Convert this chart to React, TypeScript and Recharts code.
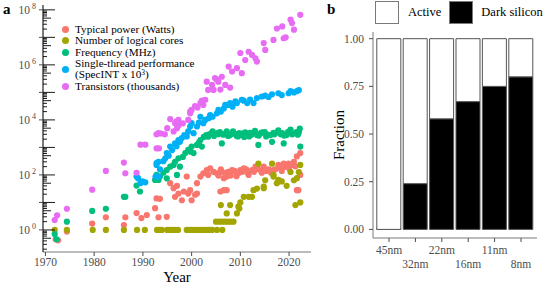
import React from "react";
import {
  ScatterChart,
  Scatter,
  XAxis,
  YAxis,
  Legend,
  BarChart,
  Bar,
} from "recharts";

// panel a: [year, value]
const power: [number, number][] = [
  [1972.1, 0.46], [1972.6, 0.42], [1974.4, 0.87], [1979.6, 1.7], [1982.4, 2.9], [1986.1, 1.5],
  [1986.4, 2.9], [1988.7, 4.1], [1989.7, 2.7], [1990.8, 3.5], [1992.5, 6.2], [1992.8, 14],
  [1993.2, 2.9], [1993.5, 13.5], [1994.9, 3], [1995.6, 50], [1996.3, 33], [1996.6, 16],
  [1997.3, 21], [1997.0, 40], [1998.0, 12], [1998.4, 25], [1999.0, 87], [1999.3, 21],
  [1999.7, 28], [2000.0, 12], [2000.7, 19], [2001.1, 50], [2001.1, 21], [2001.8, 87],
  [2002.4, 115], [2003.1, 150], [2003.4, 100], [2003.8, 174], [2004.5, 130], [2005.2, 115],
  [2005.5, 95], [2005.9, 130], [2005.9, 25], [2006.0, 160], [2006.6, 76], [2006.6, 28],
  [2006.8, 120], [2007.2, 87], [2007.2, 28], [2007.5, 130], [2008.0, 95], [2008.3, 150],
  [2008.8, 140], [2009.2, 90], [2009.6, 115], [2010.0, 150], [2010.4, 130], [2010.7, 174],
  [2011.2, 160], [2011.5, 120], [2011.7, 100], [2012.4, 150], [2012.8, 130], [2013.1, 200],
  [2013.6, 165], [2014.1, 150], [2014.4, 120], [2014.8, 200], [2015.3, 140], [2015.8, 160],
  [2016.3, 120], [2016.8, 150], [2017.2, 160], [2017.8, 230], [2018.2, 180], [2018.5, 140],
  [2018.9, 260], [2019.3, 200], [2019.9, 260], [2020.0, 170], [2020.6, 230], [2021.0, 300],
  [2021.3, 205], [2021.6, 470], [2021.6, 28], [2021.9, 28], [2022.3, 620], [2022.3, 100],
];

const cores: [number, number][] = [
  [1971.9, 1], [1974.4, 1], [1979.7, 1], [1982.4, 1], [1986.1, 1], [1988.8, 1], [1990.4, 1],
  [1992.9, 1], [1993.4, 1], [1993.9, 1], [1995.0, 1], [1995.5, 1], [1996.0, 1], [1996.6, 1],
  [1997.2, 1], [1999.0, 1], [1999.5, 1], [2000.0, 1], [2000.6, 1], [2001.2, 1], [2001.8, 1],
  [2002.4, 1], [2003.0, 1], [2003.6, 1], [2004.2, 1], [2005.2, 1], [2006.3, 1],
  [2005.0, 2], [2005.6, 2], [2006.2, 2], [2006.8, 2], [2007.4, 2], [2008.0, 2], [2008.6, 2],
  [2006.0, 8], [2007.2, 4], [2007.9, 8], [2009.3, 4], [2009.6, 7], [2009.8, 6], [2010.0, 10],
  [2010.7, 16], [2011.7, 16], [2012.4, 16], [2012.7, 28], [2013.4, 32], [2013.7, 256],
  [2014.8, 33], [2014.8, 38], [2015.1, 64], [2016.5, 256], [2016.8, 100], [2016.8, 87],
  [2017.5, 50], [2017.8, 66], [2018.5, 58], [2019.5, 40], [2020.3, 128], [2021.0, 64],
  [2021.3, 8], [2021.6, 76], [2022.3, 10], [2022.3, 230], [2022.0, 128],
];

const frequency: [number, number][] = [
  [1971.9, 0.71], [1972.3, 0.46], [1974.4, 2], [1979.6, 4.9], [1982.4, 5.9], [1986.1, 16],
  [1986.4, 16], [1988.7, 41], [1989.4, 25], [1992.5, 66], [1992.8, 100], [1993.2, 66],
  [1993.5, 87], [1994.2, 120], [1994.9, 150], [1994.9, 75], [1995.6, 200], [1996.3, 230],
  [1996.6, 300], [1997.0, 100], [1997.3, 400], [1997.6, 200], [1998.2, 450], [1998.7, 620],
  [1999.3, 810], [1999.8, 700], [2000.0, 1070], [2000.4, 620], [2001.1, 1230], [2001.5, 1500],
  [2001.8, 1860], [2002.1, 1070], [2002.5, 2400], [2003.0, 2800], [2003.4, 2450], [2003.6, 3000],
  [2004.0, 3200], [2004.3, 3800], [2004.6, 2600], [2005.2, 3300], [2005.5, 3000], [2005.8, 3600],
  [2006.2, 1400], [2006.5, 2900], [2007.0, 3200], [2007.2, 3800], [2007.5, 2600], [2007.9, 2800],
  [2008.0, 3000], [2008.5, 3800], [2008.8, 3200], [2009.2, 2660], [2009.5, 2500], [2009.8, 3300],
  [2010.3, 2800], [2010.5, 3200], [2010.8, 2400], [2011.0, 3500], [2011.3, 3100], [2011.8, 2500],
  [2012.0, 3400], [2012.3, 2900], [2012.6, 3200], [2013.0, 4000], [2013.4, 2800], [2013.7, 1230],
  [2013.8, 2700], [2014.2, 3300], [2014.5, 3500], [2015.0, 3600], [2015.3, 2500], [2015.6, 2900],
  [2016.2, 2800], [2016.5, 1600], [2016.8, 3400], [2017.0, 3000], [2017.5, 3500], [2017.8, 4200],
  [2018.3, 3000], [2018.6, 3300], [2018.9, 1400], [2019.0, 2700], [2019.5, 2800], [2019.8, 3700],
  [2020.3, 4400], [2020.6, 3000], [2021.2, 3200], [2021.5, 3600], [2021.8, 2900], [2022.0, 3500],
  [2022.2, 4800], [2022.3, 1070],
];

const singleThread: [number, number][] = [
  [1988.7, 87], [1989.0, 76], [1989.5, 50], [1989.9, 58], [1990.5, 54], [1992.6, 87],
  [1992.8, 230], [1992.8, 270], [1993.2, 300], [1993.2, 87], [1993.5, 160], [1994.2, 316],
  [1994.6, 400], [1994.9, 620], [1995.3, 500], [1995.6, 1070], [1996.0, 800], [1996.6, 1400],
  [1996.9, 1100], [1997.3, 1860], [1997.6, 1600], [1998.0, 2200], [1998.5, 2800], [1999.0, 2500],
  [1999.3, 3800], [1999.7, 5750], [2000.0, 7600], [2000.4, 3300], [2001.1, 5750], [2001.5, 8000],
  [2001.8, 13000], [2002.4, 7600], [2002.8, 10000], [2003.5, 11500], [2003.8, 15000], [2004.3, 13000],
  [2005.2, 17400], [2005.5, 23000], [2006.0, 20000], [2006.6, 26000], [2006.9, 35000], [2007.6, 35000],
  [2007.9, 41000], [2008.4, 30000], [2009.0, 47000], [2009.3, 41000], [2010.3, 54000], [2010.7, 50000],
  [2011.4, 41000], [2012.0, 55000], [2012.7, 41000], [2013.4, 62000], [2014.4, 71000], [2015.1, 76000],
  [2015.8, 68000], [2016.5, 85000], [2017.8, 93000], [2018.5, 80000], [2019.9, 93000], [2020.3, 112000],
  [2021.0, 100000], [2021.6, 112000], [2022.0, 120000],
];

const transistors: [number, number][] = [
  [1971.9, 2.3], [1972.4, 3.4], [1974.4, 5.9], [1979.6, 29], [1982.4, 140], [1986.1, 280],
  [1986.4, 115], [1988.7, 120], [1989.5, 1260], [1990.5, 1260], [1992.8, 930], [1993.3, 930],
  [1992.8, 3000], [1993.2, 3300], [1993.7, 3200], [1994.5, 3000], [1995.0, 5000], [1995.6, 10700],
  [1996.3, 3800], [1996.6, 7600], [1996.9, 8900], [1997.0, 5000], [1997.3, 6300], [1997.3, 10000],
  [1998.2, 7500], [1999.3, 10000], [1999.7, 17400], [1999.7, 20000], [2000.0, 23000], [2000.7, 32000],
  [2001.2, 28000], [2001.8, 41000], [2002.1, 50000], [2002.4, 35000], [2002.8, 54000], [2003.1, 245000],
  [2003.4, 123000], [2004.2, 186000], [2004.5, 123000], [2004.8, 330000], [2005.2, 290000],
  [2005.5, 245000], [2005.9, 126000], [2006.2, 370000], [2006.9, 186000], [2007.6, 870000],
  [2007.9, 150000], [2008.3, 575000], [2009.3, 760000], [2010.0, 2700000], [2010.3, 500000],
  [2011.0, 1500000], [2011.7, 3000000], [2012.4, 2300000], [2013.1, 1740000], [2013.4, 1320000],
  [2014.8, 6200000], [2015.1, 3500000], [2016.8, 8100000], [2017.5, 21000000], [2018.6, 25000000],
  [2018.9, 9300000], [2019.3, 10000000], [2020.3, 44000000], [2020.6, 33000000], [2021.0, 19000000],
  [2022.3, 66000000],
];

const yearTicks = [1970, 1980, 1990, 2000, 2010, 2020];
const labelledExponents = [0, 2, 4, 6, 8];
const minorSteps = [2, 3, 4, 5, 6, 7, 8, 9];
const decadeExponents = [-1, 0, 1, 2, 3, 4, 5, 6, 7];

// panel b
const nodes = ["45nm", "32nm", "22nm", "16nm", "11nm", "8nm"];
const darkSilicon = [0, 0.24, 0.58, 0.67, 0.75, 0.8];
const active = [1, 0.76, 0.42, 0.33, 0.25, 0.2];
const fractionTicks = [0, 0.25, 0.5, 0.75, 1];

const FONT = "'Liberation Serif', 'Times New Roman', serif";
const GREY = "#4d4d4d";
const BORDER = "#7a7a7a";

const seriesA = [
  { key: "power", name: "Typical power (Watts)", color: "#F8766D", points: power },
  { key: "cores", name: "Number of logical cores", color: "#A3A500", points: cores },
  { key: "freq", name: "Frequency (MHz)", color: "#00BF7D", points: frequency },
  { key: "single", name: "Single-thread performance", color: "#00B0F6", points: singleThread },
  { key: "trans", name: "Transistors (thousands)", color: "#E76BF3", points: transistors },
];

const logTicks: number[] = [];
decadeExponents.forEach((e) => {
  if (e >= 0) logTicks.push(Math.pow(10, e));
  minorSteps.forEach((m) => logTicks.push(m * Math.pow(10, e)));
});
logTicks.push(1e8);

function LogTick({ x, y, payload }: any) {
  const v = payload.value;
  const exp = Math.floor(Math.log10(v) + 1e-9);
  const mult = Math.round(v / Math.pow(10, exp));
  const len = mult === 1 ? 12 : mult === 5 ? 8 : 4;
  return (
    <g>
      {mult === 1 && <line x1={x - 4} x2={x} y1={y} y2={y} stroke={GREY} strokeWidth={1} />}
      <line x1={x} x2={x + len} y1={y} y2={y} stroke="#000" strokeWidth={0.9} />
      {mult === 1 && labelledExponents.includes(exp) && (
        <text x={x - 13} y={y} dy="0.36em" textAnchor="end" fontSize={11.5} fill={GREY} fontFamily={FONT}>
          10
          <tspan x={x - 7} dy={-5} fontSize={8}>
            {exp}
          </tspan>
        </text>
      )}
    </g>
  );
}

function Dot(props: any) {
  const { cx, cy, fill } = props;
  if (cx == null || cy == null) return null;
  return <circle cx={cx} cy={cy} r={3.1} fill={fill} />;
}

function LegendA() {
  const line = { whiteSpace: "nowrap" as const, height: 11.2, lineHeight: "11.2px" };
  return (
    <div style={{ fontFamily: FONT, fontSize: 11.2, color: "#000" }}>
      {seriesA.map((s) => (
        <div key={s.key} style={{ display: "flex", alignItems: "center", marginBottom: 0.2 }}>
          <span
            style={{
              width: 7,
              height: 7,
              borderRadius: "50%",
              background: s.color,
              display: "inline-block",
              marginRight: 6,
              flexShrink: 0,
            }}
          />
          <div>
            <div style={line}>{s.name}</div>
            {s.key === "single" && (
              <div style={line}>
                (SpecINT x 10
                <span style={{ fontSize: 7.5, verticalAlign: "top", lineHeight: "8px" }}>3</span>)
              </div>
            )}
          </div>
        </div>
      ))}
    </div>
  );
}

function LegendB() {
  const box = (bg: string) => ({
    width: 22,
    height: 21,
    background: bg,
    border: `1px solid ${BORDER}`,
    display: "inline-block",
  });
  return (
    <div style={{ display: "flex", alignItems: "center", fontFamily: FONT, fontSize: 12.5 }}>
      <span style={box("#fff")} />
      <span style={{ marginLeft: 9, marginRight: 8 }}>Active</span>
      <span style={box("#000")} />
      <span style={{ marginLeft: 8 }}>Dark silicon</span>
    </div>
  );
}

function NodeTick({ x, y, payload, index }: any) {
  return (
    <text
      x={x}
      y={y + (index % 2 ? 14 : 0)}
      dy="0.71em"
      textAnchor="middle"
      fontSize={11.5}
      fill={GREY}
      fontFamily={FONT}
    >
      {payload.value}
    </text>
  );
}

export default function App() {
  const barData = nodes.map((n, i) => ({ node: n, dark: darkSilicon[i], active: active[i] }));
  const tickStyle = { fontSize: 11.5, fill: GREY, fontFamily: FONT };

  return (
    <div
      style={{
        position: "absolute",
        left: 0,
        top: 0,
        width: 543,
        height: 286,
        background: "#fff",
        fontFamily: FONT,
      }}
    >
      <div style={{ position: "absolute", left: 3, top: 1, fontSize: 15, fontWeight: "bold" }}>a</div>
      <div style={{ position: "absolute", left: 327, top: 1, fontSize: 15, fontWeight: "bold" }}>b</div>

      <div style={{ position: "absolute", left: 0, top: 0 }}>
        <ScatterChart width={320} height={286} margin={{ top: 5, right: 9, left: 0, bottom: 0 }}>
          <XAxis
            xAxisId="top"
            orientation="top"
            type="number"
            domain={[0, 1]}
            height={0}
            tick={false}
            tickLine={false}
            axisLine={{ stroke: BORDER }}
          />
          <YAxis
            yAxisId="right"
            orientation="right"
            type="number"
            domain={[0, 1]}
            width={0}
            tick={false}
            tickLine={false}
            axisLine={{ stroke: BORDER }}
          />
          <XAxis
            dataKey="year"
            type="number"
            domain={[1969.5, 2024.5]}
            allowDataOverflow
            ticks={yearTicks}
            height={34}
            tickSize={4}
            tickMargin={2}
            tick={tickStyle}
            tickLine={{ stroke: GREY }}
            axisLine={{ stroke: BORDER }}
            label={{ value: "Year", position: "insideBottom", offset: 4, style: { fontSize: 15, fill: "#000", fontFamily: FONT } }}
          />
          <YAxis
            dataKey="value"
            type="number"
            scale="log"
            domain={[0.158, 1.5e8]}
            allowDataOverflow
            ticks={logTicks}
            interval={0}
            width={43}
            tickSize={0}
            tickMargin={0}
            tickLine={false}
            tick={<LogTick />}
            axisLine={{ stroke: "#222", strokeWidth: 1.2 }}
          />
          <Legend
            layout="vertical"
            align="center"
            verticalAlign="middle"
            wrapperStyle={{ left: 62, top: 24, width: "auto" }}
            content={<LegendA />}
          />
          {seriesA.map((s) => (
            <Scatter
              key={s.key}
              name={s.name}
              data={s.points.map(([year, value]) => ({ year, value }))}
              fill={s.color}
              shape={<Dot />}
              isAnimationActive={false}
            />
          ))}
        </ScatterChart>
      </div>

      <div style={{ position: "absolute", left: 330, top: 0 }}>
        <BarChart
          width={213}
          height={286}
          data={barData}
          margin={{ top: 32, right: 6, left: 0, bottom: 0 }}
          barSize={24}
        >
          <XAxis
            xAxisId="top"
            orientation="top"
            dataKey="node"
            height={0}
            tick={false}
            tickLine={false}
            axisLine={{ stroke: BORDER }}
          />
          <YAxis
            yAxisId="right"
            orientation="right"
            type="number"
            domain={[-0.045, 1.035]}
            width={0}
            tick={false}
            tickLine={false}
            axisLine={{ stroke: BORDER }}
          />
          <XAxis
            dataKey="node"
            height={48}
            padding={{ left: 2.8, right: 2.8 }}
            interval={0}
            tickSize={4}
            tickMargin={4}
            tick={<NodeTick />}
            tickLine={{ stroke: GREY }}
            axisLine={{ stroke: BORDER }}
          />
          <YAxis
            type="number"
            domain={[-0.045, 1.035]}
            allowDataOverflow
            ticks={fractionTicks}
            tickFormatter={(v: number) => v.toFixed(2)}
            width={43}
            tickSize={4}
            tickMargin={5}
            tick={tickStyle}
            tickLine={{ stroke: GREY }}
            axisLine={{ stroke: BORDER }}
            label={{
              value: "Fraction",
              angle: -90,
              position: "insideLeft",
              offset: 9,
              style: { textAnchor: "middle", fontSize: 15, fill: "#000", fontFamily: FONT },
            }}
          />
          <Legend
            layout="horizontal"
            align="center"
            verticalAlign="middle"
            wrapperStyle={{ left: 45, top: 1, width: "auto" }}
            content={<LegendB />}
          />
          <Bar dataKey="dark" stackId="s" fill="#000" stroke="#555" strokeWidth={1} minPointSize={1} isAnimationActive={false} />
          <Bar dataKey="active" stackId="s" fill="#fff" stroke="#555" strokeWidth={1} isAnimationActive={false} />
        </BarChart>
      </div>
    </div>
  );
}
